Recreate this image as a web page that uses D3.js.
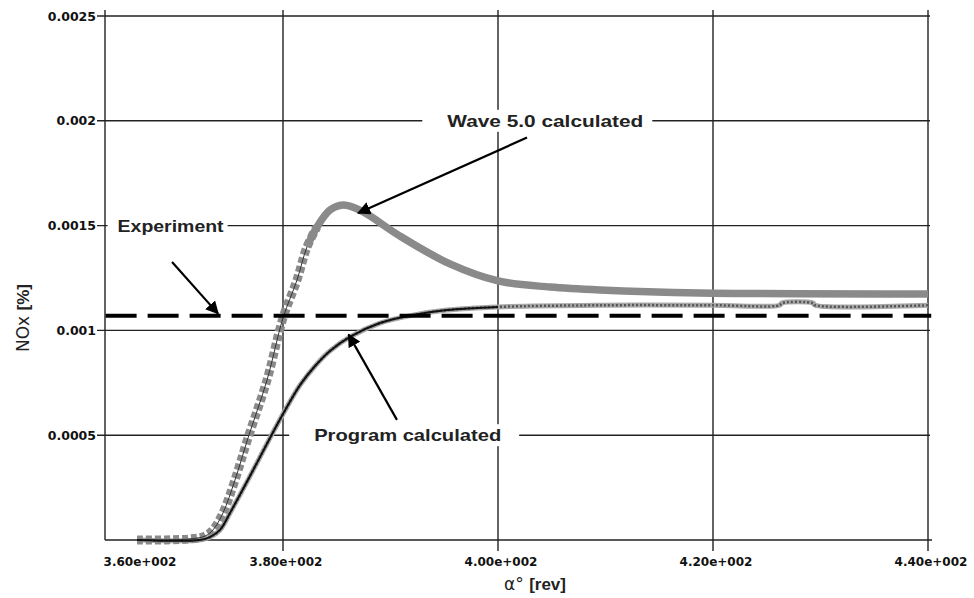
<!DOCTYPE html>
<html>
<head>
<meta charset="utf-8">
<script src="https://d3js.org/d3.v7.min.js"></script>
<style>
  body { margin: 0; background: #fff; }
  text { font-family: "Liberation Sans", Arial, sans-serif; }
  .tick-label { font-family: "DejaVu Sans", sans-serif; font-weight: bold; fill: #111; }
</style>
</head>
<body>
<svg id="chart" width="974" height="598"></svg>
<script>
// data
const waveX = [360, 367.26, 369.32, 370.41, 371.78, 373.42, 375.21, 377.81, 380, 381.3, 382.23, 383.16,
               384.37, 385.58, 386.7, 387.81, 390.88, 395.53, 400, 404.84, 409.49, 418.79, 440];
const waveY = [0, 0.000005, 0.000019, 0.000048, 0.000129, 0.000286, 0.000487, 0.000763, 0.001059, 0.00124,
               0.001398, 0.001493, 0.001574, 0.001598, 0.001584, 0.001555, 0.00145, 0.001317, 0.001236,
               0.001207, 0.001193, 0.001179, 0.001174];

const programX = [360, 368.6, 370.0, 371.37, 372.74, 375.48, 378.22, 380, 381.58, 382.98, 384.37, 386.23,
                  389.02, 392.09, 395.26, 400];
const programY = [0, 0, 0.000014, 0.000048, 0.000129, 0.000305, 0.000487, 0.000601, 0.000739, 0.000830,
                  0.000902, 0.000969, 0.001035, 0.001073, 0.001097, 0.001112];

// dotted copy of the program curve that carries on to the end
const tailX = [409.5, 420, 426.2, 426.4, 429.3, 429.5, 440];
const tailY = [0.00112, 0.00112, 0.00112, 0.00113, 0.00113, 0.00112, 0.00112];

const experimentX = [355.7, 440.3];
const experimentY = [0.00107, 0.00107];

const xTicks = [360, 380, 400, 420, 440];
const xTickLabels = ["3.60e+002", "3.80e+002", "4.00e+002", "4.20e+002", "4.40e+002"];
const xGrid = [380, 400, 420, 440];
const yTicks = [0.0005, 0.001, 0.0015, 0.002, 0.0025];
const yTickLabels = ["0.0005", "0.001", "0.0015", "0.002", "0.0025"];

const notes = [
  {text: "Wave 5.0 calculated", x: 404.4, y: 0.002, w: 196, padL: 25, padR: 9},
  {text: "Experiment", x: 364.6, y: 0.0015, w: 106, padL: 10, padR: 4},
  {text: "Program calculated", x: 391.6, y: 0.0005, w: 187, padL: 25, padR: 18}
];
const arrows = [
  {x1: 402.7, y1: 0.00192, x2: 387.0, y2: 0.00156},
  {x1: 364.8, y1: 0.001326, x2: 371.1, y2: 0.00108},
  {x1: 390.6, y1: 0.000573, x2: 386.1, y2: 0.00098}
];

const svg = d3.select("#chart");
const plotLeft = 105, plotRight = 928, plotTop = 16, plotBottom = 540;

// the 3.60e+002 label sits inside the frame, so the first segment is drawn tighter
const x = d3.scaleLinear().domain([360, 380, 440]).range([137, 283, plotRight]);
const y = d3.scaleLinear().domain([0, 0.0025]).range([plotBottom, plotTop]);

const grid = svg.append("g").attr("stroke", "#222").attr("stroke-width", 1.4);

yTicks.forEach(v => {
  grid.append("line").attr("x1", plotLeft - 8).attr("x2", plotRight + 2)
    .attr("y1", y(v)).attr("y2", y(v));
});
grid.append("line").attr("x1", plotLeft).attr("x2", plotRight + 4)
  .attr("y1", plotBottom).attr("y2", plotBottom);
grid.append("line").attr("x1", plotLeft).attr("x2", plotLeft)
  .attr("y1", plotTop - 6).attr("y2", plotBottom);
xGrid.forEach(v => {
  grid.append("line").attr("x1", x(v)).attr("x2", x(v))
    .attr("y1", plotTop - 6).attr("y2", plotBottom + 11);
});

// tick labels
svg.selectAll(".ylab").data(yTicks).join("text")
  .attr("class", "tick-label")
  .attr("x", plotLeft - 9).attr("y", d => y(d))
  .attr("dy", "0.36em").attr("text-anchor", "end")
  .attr("font-size", 12.5)
  .text((d, i) => yTickLabels[i]);

svg.selectAll(".xlab").data(xTicks).join("text")
  .attr("class", "tick-label")
  .attr("x", d => x(d) + 3).attr("y", plotBottom + 22)
  .attr("dy", "0.36em").attr("text-anchor", "middle")
  .attr("font-size", 12)
  .text((d, i) => xTickLabels[i]);

// annotation boxes hide the grid behind the text
const noteG = svg.append("g");
notes.forEach(n => {
  const cx = x(n.x), cy = y(n.y);
  noteG.append("rect")
    .attr("x", cx - n.w / 2 - n.padL).attr("y", cy - 11)
    .attr("width", n.w + n.padL + n.padR).attr("height", 22)
    .attr("fill", "#fff");
  noteG.append("text")
    .attr("x", cx - n.w / 2).attr("y", cy).attr("dy", "0.36em")
    .attr("font-size", 17).attr("font-weight", "bold").attr("fill", "#222")
    .attr("textLength", n.w).attr("lengthAdjust", "spacingAndGlyphs")
    .text(n.text);
});

const line = d3.line()
  .x(d => x(d[0])).y(d => y(d[1]))
  .curve(d3.curveCatmullRom.alpha(0.5));

const wave = waveX.map((v, i) => [v, waveY[i]]);
const waveRise = wave.filter(d => d[0] <= 383.2);
const waveBand = wave.filter(d => d[0] >= 382.2);
const program = programX.map((v, i) => [v, programY[i]]);
const programAll = program.concat(tailX.map((v, i) => [v, tailY[i]]));
const experiment = experimentX.map((v, i) => [v, experimentY[i]]);

// program dotted series
svg.append("path").datum(programAll).attr("d", line)
  .attr("fill", "none").attr("stroke", "#a8a8a8").attr("stroke-width", 5);
svg.append("path").datum(programAll).attr("d", line)
  .attr("fill", "none").attr("stroke", "#555").attr("stroke-width", 2.5)
  .attr("stroke-dasharray", "2,2");

// wave 5.0 series: square markers on the rise, thick grey band after the peak
svg.append("path").datum(waveRise).attr("d", line)
  .attr("fill", "none").attr("stroke", "#8a8a8a").attr("stroke-width", 9)
  .attr("stroke-dasharray", "6,3");
svg.append("path").datum(waveRise).attr("d", line)
  .attr("fill", "none").attr("stroke", "#333").attr("stroke-width", 1);
svg.append("path").datum(waveBand).attr("d", line)
  .attr("fill", "none").attr("stroke", "#8a8a8a").attr("stroke-width", 7.5);

// program solid
svg.append("path").datum(program).attr("d", line)
  .attr("fill", "none").attr("stroke", "#111").attr("stroke-width", 2);

// experiment dashed
svg.append("path").datum(experiment).attr("d", line)
  .attr("fill", "none").attr("stroke", "#000").attr("stroke-width", 4)
  .attr("stroke-dasharray", "31,11");

// arrows
svg.append("defs").append("marker")
  .attr("id", "head").attr("viewBox", "0 0 10 10")
  .attr("refX", 9).attr("refY", 5)
  .attr("markerWidth", 6).attr("markerHeight", 6)
  .attr("markerUnits", "strokeWidth")
  .attr("orient", "auto")
  .append("path").attr("d", "M0,0L10,5L0,10Z").attr("fill", "#000");

svg.selectAll(".arrow").data(arrows).join("line")
  .attr("x1", d => x(d.x1)).attr("y1", d => y(d.y1))
  .attr("x2", d => x(d.x2)).attr("y2", d => y(d.y2))
  .attr("stroke", "#000").attr("stroke-width", 2.2)
  .attr("marker-end", "url(#head)");

// axis titles
const yt = svg.append("text")
  .attr("transform", "translate(29,318) rotate(-90)")
  .attr("text-anchor", "middle").attr("font-size", 17).attr("fill", "#222");
yt.append("tspan").attr("font-family", "DejaVu Sans").attr("font-weight", "normal").text("NOx ");
yt.append("tspan").attr("font-weight", "bold").text("[%]");

const xt = svg.append("text")
  .attr("x", 535).attr("y", 590)
  .attr("text-anchor", "middle").attr("font-size", 17).attr("fill", "#222");
xt.append("tspan").attr("font-family", "DejaVu Sans").text("α° ");
xt.append("tspan").attr("font-weight", "bold").text("[rev]");
</script>
</body>
</html>
